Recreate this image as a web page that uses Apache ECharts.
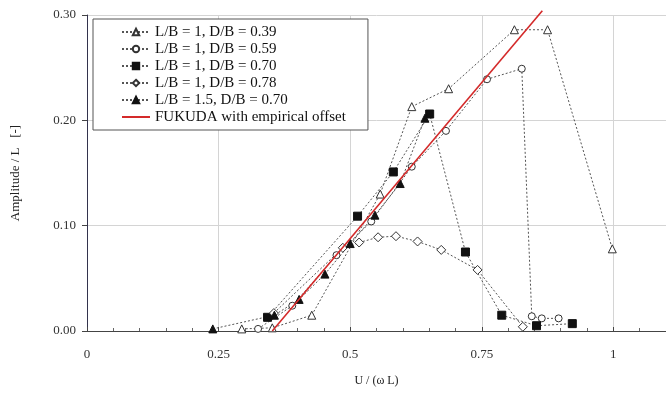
<!DOCTYPE html>
<html>
<head>
<meta charset="utf-8">
<script src="https://cdn.jsdelivr.net/npm/echarts@6/dist/echarts.min.js"></script>
<style>html,body{margin:0;padding:0;background:#fff;}#c{width:666px;height:393px;}</style>
</head>
<body>
<div id="c"></div>
<script>
// ---- data ----
const seriesNames = [
  'L/B = 1, D/B = 0.39',
  'L/B = 1, D/B = 0.59',
  'L/B = 1, D/B = 0.70',
  'L/B = 1, D/B = 0.78',
  'L/B = 1.5, D/B = 0.70',
  'FUKUDA with empirical offset'
];
const lb1_db039 = [[0.294,0.002],[0.352,0.003],[0.427,0.015],[0.557,0.130],[0.617,0.213],[0.687,0.230],[0.812,0.286],[0.875,0.286],[0.998,0.078]];
const lb1_db059 = [[0.325,0.002],[0.390,0.024],[0.474,0.072],[0.540,0.104],[0.617,0.156],[0.682,0.190],[0.760,0.239],[0.826,0.249],[0.845,0.014],[0.864,0.012],[0.896,0.012]];
const lb1_db070 = [[0.343,0.013],[0.514,0.109],[0.582,0.151],[0.651,0.206],[0.719,0.075],[0.788,0.015],[0.854,0.005],[0.922,0.007]];
const lb1_db078 = [[0.355,0.017],[0.486,0.079],[0.517,0.084],[0.553,0.089],[0.587,0.090],[0.628,0.085],[0.673,0.077],[0.742,0.058],[0.828,0.004]];
const lb15_db070 = [[0.239,0.002],[0.356,0.015],[0.403,0.030],[0.452,0.054],[0.500,0.083],[0.547,0.110],[0.595,0.140],[0.642,0.202]];
const fukuda = [[0.352,0.000],[0.865,0.304]];
const xTickValues = [0, 0.25, 0.5, 0.75, 1];
const xTickLabels = ['0', '0.25', '0.5', '0.75', '1'];
const yTickValues = [0, 0.1, 0.2, 0.3];
const yTickLabels = ['0.00', '0.10', '0.20', '0.30'];

const FONT = '"Liberation Serif", "DejaVu Serif", serif';
const chart = echarts.init(document.getElementById('c'), null, {renderer: 'canvas'});

function dotted(name, data, symbol, filled, size) {
  return {
    name: name, type: 'line', data: data, symbol: symbol, symbolSize: size,
    showSymbol: true,
    lineStyle: {color: '#555', width: 1, type: [2, 2]},
    itemStyle: filled ? {color: '#111', borderColor: '#111', borderWidth: 1}
                      : {color: '#fff', borderColor: '#333', borderWidth: 1},
    z: 3
  };
}

function pick(values, labels, v) {
  for (let i = 0; i < values.length; i++) if (Math.abs(values[i] - v) < 1e-6) return labels[i];
  return '';
}

const legendData = seriesNames.map((n, i) => i === 5
  ? {name: n, itemStyle: {opacity: 0}}
  : {name: n});

chart.setOption({
  animation: false,
  backgroundColor: '#fff',
  grid: {left: 87, top: 15, width: 581, height: 316},
  legend: {
    orient: 'vertical', left: 93, top: 19,
    backgroundColor: '#fff', borderColor: '#555', borderWidth: 1,
    padding: [5, 22, 5, 28],
    itemWidth: 28, itemHeight: 8, itemGap: 1,
    textStyle: {fontFamily: FONT, fontSize: 15, color: '#111', lineHeight: 16},
    data: legendData
  },
  xAxis: {
    type: 'value', min: 0, max: 1.1, interval: 0.25,
    name: 'U / (ω L)', nameLocation: 'middle', nameGap: 44,
    nameTextStyle: {fontFamily: FONT, fontSize: 12, color: '#222'},
    axisLine: {show: true, lineStyle: {color: '#444', width: 1}},
    axisTick: {show: true, inside: true, length: 4, lineStyle: {color: '#444'}},
    minorTick: {show: true, splitNumber: 5, length: 3, lineStyle: {color: '#666'}},
    splitLine: {show: true, lineStyle: {color: '#d4d4d4', width: 1}},
    axisLabel: {
      showMaxLabel: false, margin: 17,
      fontFamily: FONT, fontSize: 13, color: '#333',
      formatter: v => pick(xTickValues, xTickLabels, v)
    }
  },
  yAxis: {
    type: 'value', min: 0, max: 0.3, interval: 0.1,
    name: 'Amplitude / L   [-]', nameLocation: 'middle', nameGap: 65, nameRotate: 90,
    nameTextStyle: {fontFamily: FONT, fontSize: 13, color: '#222'},
    axisLine: {show: true, lineStyle: {color: '#33334d', width: 1}},
    axisTick: {show: true, inside: false, length: 5, lineStyle: {color: '#444'}},
    splitLine: {show: true, lineStyle: {color: '#d4d4d4', width: 1}},
    axisLabel: {
      margin: 11, fontFamily: FONT, fontSize: 13, color: '#333',
      formatter: v => pick(yTickValues, yTickLabels, v)
    }
  },
  series: [
    dotted(seriesNames[0], lb1_db039, 'triangle', false, 8),
    dotted(seriesNames[1], lb1_db059, 'circle', false, 7),
    dotted(seriesNames[2], lb1_db070, 'rect', true, 8),
    dotted(seriesNames[3], lb1_db078, 'diamond', false, 9),
    dotted(seriesNames[4], lb15_db070, 'triangle', true, 8),
    {
      name: seriesNames[5], type: 'line', data: fukuda, symbol: 'none',
      clip: false,
      lineStyle: {color: '#d42a2a', width: 1.6, type: 'solid'},
      itemStyle: {color: '#d42a2a'},
      z: 4
    }
  ]
});
</script>
</body>
</html>
